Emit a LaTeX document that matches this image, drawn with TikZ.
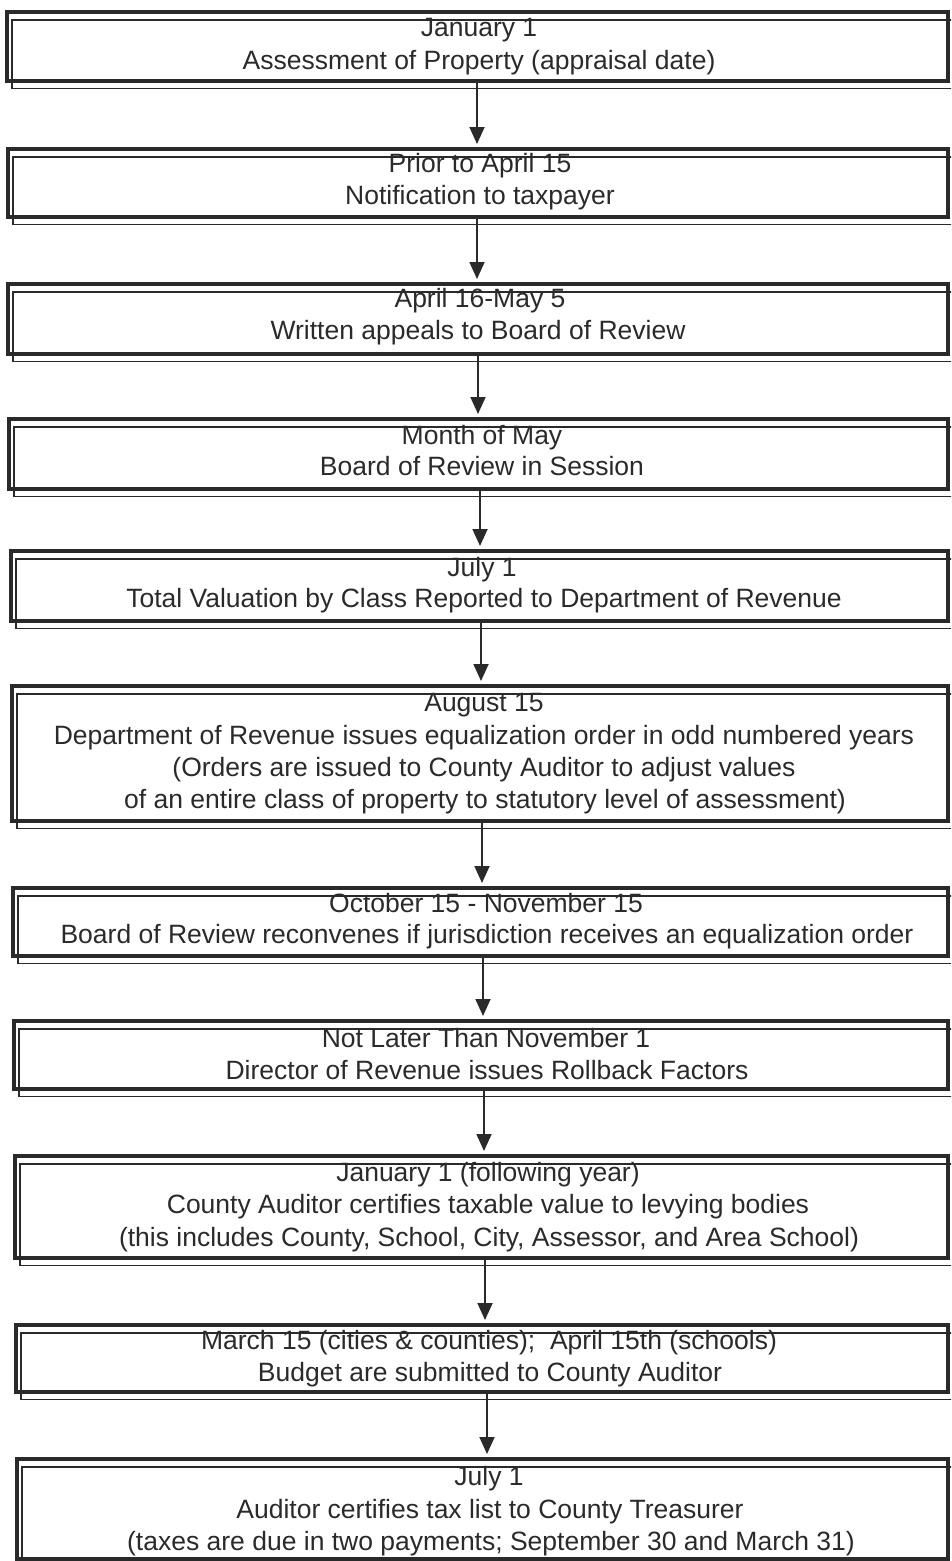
\documentclass[tikz,border=0pt]{standalone}
\usepackage{fontspec}
\setmainfont{Liberation Sans}
\usetikzlibrary{arrows.meta}
\definecolor{ink}{HTML}{2A2A2A}
\tikzset{
  stepbox/.style={draw=ink, line width=4pt, outer sep=0pt, inner sep=0pt, rectangle},
  shadowline/.style={draw=ink, line width=1.4pt},
  txt/.style={anchor=base, inner sep=0pt, text=ink, font=\fontsize{26.5}{32}\selectfont},
  arr/.style={draw=ink, line width=1.8pt, shorten >=5pt, -{Triangle[width=15pt,length=17pt]}}
}
\newcommand{\shadowof}[1]{\draw[shadowline] ([xshift=5pt,yshift=-8pt]#1.north west) rectangle ([xshift=7pt,yshift=-7.5pt]#1.south east);}
\begin{document}
\begin{tikzpicture}[x=1pt,y=-1pt]
\useasboundingbox (0,0) rectangle (951,1561);
\clip (0,0) rectangle (951,1561);
% boxes
\node[stepbox, minimum width=941pt, minimum height=69pt] (b1) at (477.5,46.5) {};
\node[stepbox, minimum width=940pt, minimum height=68pt] (b2) at (478,183) {};
\node[stepbox, minimum width=940pt, minimum height=70pt] (b3) at (478,319) {};
\node[stepbox, minimum width=939pt, minimum height=70pt] (b4) at (478.5,454) {};
\node[stepbox, minimum width=937pt, minimum height=70pt] (b5) at (479.5,586) {};
\node[stepbox, minimum width=936pt, minimum height=135pt] (b6) at (480,753.5) {};
\node[stepbox, minimum width=935pt, minimum height=68pt] (b7) at (480.5,922) {};
\node[stepbox, minimum width=934pt, minimum height=68pt] (b8) at (481,1055) {};
\node[stepbox, minimum width=933pt, minimum height=102pt] (b9) at (481.5,1207) {};
\node[stepbox, minimum width=932pt, minimum height=67pt] (b10) at (482,1358.5) {};
\node[stepbox, minimum width=931pt, minimum height=100pt] (b11) at (482.5,1509) {};
\foreach \b in {b1,b2,b3,b4,b5,b6,b7,b8,b9,b10,b11} {\shadowof{\b}}
% texts
\node[txt] (t1a) at (479,36) {January 1};
\node[txt] (t1b) at (479,69) {Assessment of Property (appraisal date)};
\node[txt] (t2a) at (480,172) {Prior to April 15};
\node[txt] (t2b) at (480,204) {Notification to taxpayer};
\node[txt] (t3a) at (480,307) {April 16-May 5};
\node[txt] (t3b) at (478,339) {Written appeals to Board of Review};
\node[txt] (t4a) at (482,444) {Month of May};
\node[txt] (t4b) at (482,475) {Board of Review in Session};
\node[txt] (t5a) at (482,576) {July 1};
\node[txt] (t5b) at (484,607) {Total Valuation by Class Reported to Department of Revenue};
\node[txt] (t6a) at (484,711) {August 15};
\node[txt] (t6b) at (484,744) {Department of Revenue issues equalization order in odd numbered years};
\node[txt] (t6c) at (484,776) {(Orders are issued to County Auditor to adjust values};
\node[txt] (t6d) at (485,808) {of an entire class of property to statutory level of assessment)};
\node[txt] (t7a) at (486,912) {October 15 - November 15};
\node[txt] (t7b) at (487,943) {Board of Review reconvenes if jurisdiction receives an equalization order};
\node[txt] (t8a) at (486,1047) {Not Later Than November 1};
\node[txt] (t8b) at (487,1079) {Director of Revenue issues Rollback Factors};
\node[txt] (t9a) at (488,1181) {January 1 (following year)};
\node[txt] (t9b) at (488,1213) {County Auditor certifies taxable value to levying bodies};
\node[txt] (t9c) at (489,1246) {(this includes County, School, City, Assessor, and Area School)};
\node[txt] (t10a) at (489,1349) {March 15 (cities \& counties);\ \ April 15th (schools)};
\node[txt] (t10b) at (490,1381) {Budget are submitted to County Auditor};
\node[txt] (t11a) at (489,1485) {July 1};
\node[txt] (t11b) at (490,1518) {Auditor certifies tax list to County Treasurer};
\node[txt] (t11c) at (491,1550) {(taxes are due in two payments; September 30 and March 31)};
% arrows
\draw[arr] ([xshift=-0.5pt]b1.south) -- ([xshift=-0.5pt]b1.south |- b2.north);
\draw[arr] ([xshift=-1pt]b2.south) -- ([xshift=-1pt]b2.south |- b3.north);
\draw[arr] ([xshift=0pt]b3.south) -- ([xshift=0pt]b3.south |- b4.north);
\draw[arr] ([xshift=1.5pt]b4.south) -- ([xshift=1.5pt]b4.south |- b5.north);
\draw[arr] ([xshift=1.5pt]b5.south) -- ([xshift=1.5pt]b5.south |- b6.north);
\draw[arr] ([xshift=2pt]b6.south) -- ([xshift=2pt]b6.south |- b7.north);
\draw[arr] ([xshift=2.5pt]b7.south) -- ([xshift=2.5pt]b7.south |- b8.north);
\draw[arr] ([xshift=3pt]b8.south) -- ([xshift=3pt]b8.south |- b9.north);
\draw[arr] ([xshift=3.5pt]b9.south) -- ([xshift=3.5pt]b9.south |- b10.north);
\draw[arr] ([xshift=5pt]b10.south) -- ([xshift=5pt]b10.south |- b11.north);
\end{tikzpicture}
\end{document}
